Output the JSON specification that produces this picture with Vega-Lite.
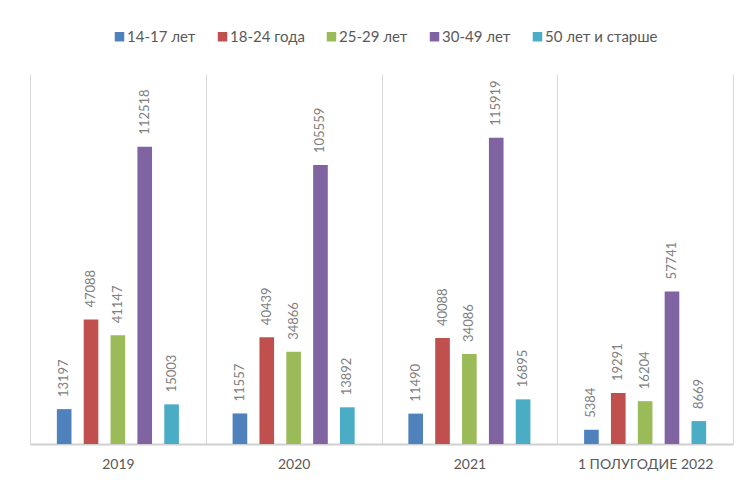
{
  "$schema": "https://vega.github.io/schema/vega-lite/v6.json",
  "width": 703,
  "height": 370,
  "autosize": {"type": "none"},
  "padding": {"left": 30, "top": 74, "right": 16, "bottom": 36},
  "background": "white",
  "config": {
    "view": {"stroke": null},
    "font": "Lato"
  },
  "data": {
    "values": [
      {"period": "2019", "group": "14-17 лет", "value": 13197},
      {"period": "2019", "group": "18-24 года", "value": 47088},
      {"period": "2019", "group": "25-29 лет", "value": 41147},
      {"period": "2019", "group": "30-49 лет", "value": 112518},
      {"period": "2019", "group": "50 лет и старше", "value": 15003},
      {"period": "2020", "group": "14-17 лет", "value": 11557},
      {"period": "2020", "group": "18-24 года", "value": 40439},
      {"period": "2020", "group": "25-29 лет", "value": 34866},
      {"period": "2020", "group": "30-49 лет", "value": 105559},
      {"period": "2020", "group": "50 лет и старше", "value": 13892},
      {"period": "2021", "group": "14-17 лет", "value": 11490},
      {"period": "2021", "group": "18-24 года", "value": 40088},
      {"period": "2021", "group": "25-29 лет", "value": 34086},
      {"period": "2021", "group": "30-49 лет", "value": 115919},
      {"period": "2021", "group": "50 лет и старше", "value": 16895},
      {"period": "1 ПОЛУГОДИЕ 2022", "group": "14-17 лет", "value": 5384},
      {"period": "1 ПОЛУГОДИЕ 2022", "group": "18-24 года", "value": 19291},
      {"period": "1 ПОЛУГОДИЕ 2022", "group": "25-29 лет", "value": 16204},
      {"period": "1 ПОЛУГОДИЕ 2022", "group": "30-49 лет", "value": 57741},
      {"period": "1 ПОЛУГОДИЕ 2022", "group": "50 лет и старше", "value": 8669}
    ]
  },
  "encoding": {
    "x": {
      "field": "period",
      "type": "nominal",
      "sort": null,
      "scale": {"paddingInner": 0, "paddingOuter": 0},
      "axis": {
        "title": null,
        "labelAngle": 0,
        "ticks": false,
        "tickBand": "extent",
        "grid": true,
        "gridColor": "#d9d9d9",
        "gridWidth": 1,
        "domainColor": "#d0d0d0",
        "domainWidth": 2,
        "labelFont": "Lato",
        "labelFontSize": 14,
        "labelColor": "#595959",
        "labelPadding": 13
      }
    },
    "xOffset": {
      "field": "group",
      "type": "nominal",
      "sort": null,
      "scale": {"paddingInner": 0.455, "paddingOuter": 1.15}
    },
    "y": {
      "field": "value",
      "type": "quantitative",
      "scale": {"domain": [0, 140000], "nice": false},
      "axis": null
    }
  },
  "layer": [
    {
      "mark": {"type": "bar"},
      "encoding": {
        "color": {
          "field": "group",
          "type": "nominal",
          "sort": null,
          "scale": {
            "domain": ["14-17 лет", "18-24 года", "25-29 лет", "30-49 лет", "50 лет и старше"],
            "range": ["#4F81BD", "#C0504D", "#9BBB59", "#8064A2", "#4BACC6"]
          },
          "legend": {
            "title": null,
            "orient": "none",
            "direction": "horizontal",
            "legendX": 82,
            "legendY": -45,
            "padding": 0,
            "symbolType": "square",
            "symbolSize": 90,
            "symbolStrokeWidth": 0,
            "labelFont": "Lato",
            "labelFontSize": 15,
            "labelColor": "#595959",
            "labelOffset": 0,
            "columnPadding": 19
          }
        }
      }
    },
    {
      "mark": {
        "type": "text",
        "angle": 270,
        "align": "left",
        "baseline": "middle",
        "dx": 12,
        "font": "Lato",
        "fontSize": 13,
        "color": "#7f7f7f"
      },
      "encoding": {
        "text": {"field": "value", "type": "quantitative", "format": "d"}
      }
    }
  ]
}
